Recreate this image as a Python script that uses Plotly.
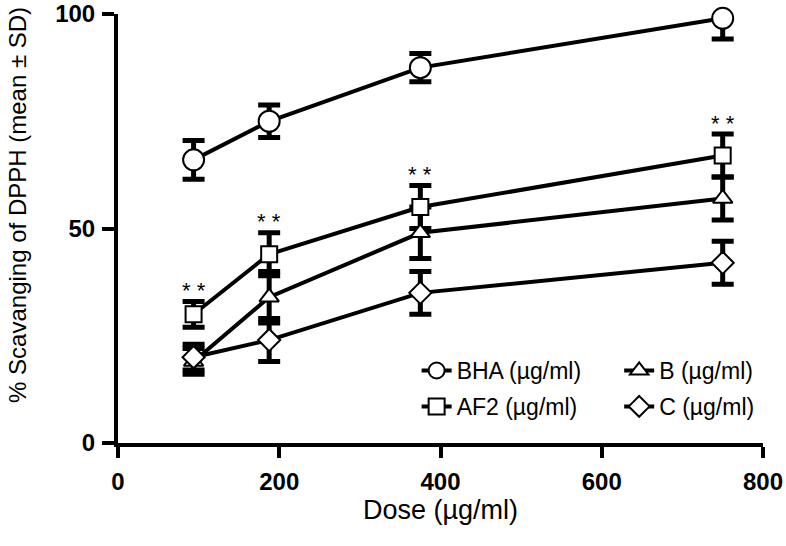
import plotly.graph_objects as go

dose = [93.75, 187.5, 375, 750]
bha = [66, 75, 87.5, 99]
bha_sd = [4.5, 3.8, 3.3, 4.8]
af2 = [30, 44, 55, 67]
af2_sd = [3, 5, 5, 5]
b_vals = [19, 34, 49, 57]
b_sd = [3, 6, 6, 5]
c_vals = [20, 24, 35, 42]
c_sd = [3, 5, 5, 5]

series = [
    ("BHA (µg/ml)", bha, bha_sd, "circle", 21, "legend"),
    ("AF2 (µg/ml)", af2, af2_sd, "square", 16, "legend"),
    ("B (µg/ml)", b_vals, b_sd, "triangle-up", 17, "legend2"),
    ("C (µg/ml)", c_vals, c_sd, "diamond", 17, "legend2"),
]

fig = go.Figure()
FONT = "Liberation Sans, Arial, sans-serif"

# error bars (clipped to plot area)
for name, vals, sd, sym, size, lg in series:
    fig.add_trace(go.Scatter(
        x=dose, y=vals, mode="markers", showlegend=False, hoverinfo="skip",
        marker=dict(size=1, color="rgba(0,0,0,0)"),
        error_y=dict(type="data", array=sd, visible=True, color="black",
                     thickness=5, width=11),
        cliponaxis=True,
    ))

# lines + markers
for name, vals, sd, sym, size, lg in series:
    fig.add_trace(go.Scatter(
        x=dose, y=vals, mode="lines+markers", name=name, legend=lg,
        legendgroup=name,
        line=dict(color="black", width=4),
        marker=dict(symbol=sym, size=size, color="white",
                    line=dict(color="black", width=2)),
        cliponaxis=False,
    ))

for xv, yv, s in zip(dose, af2, af2_sd):
    fig.add_annotation(x=xv, y=yv + s, text="* *", showarrow=False,
                       yshift=11, font=dict(family=FONT, size=22, color="black"))

fig.add_annotation(text="% Scavanging of DPPH (mean ± SD)", textangle=-90,
                   xref="paper", yref="paper", x=0, y=0.555,
                   xanchor="center", yanchor="middle", xshift=-100,
                   showarrow=False, font=dict(size=24, family=FONT, color="black"))

leg_common = dict(font=dict(size=23, family=FONT), bgcolor="rgba(0,0,0,0)",
                  traceorder="grouped", tracegroupgap=3,
                  xanchor="left", yanchor="top")

fig.update_layout(
    width=786, height=546,
    margin=dict(l=118, r=23, t=14, b=103),
    plot_bgcolor="white", paper_bgcolor="white",
    font=dict(family=FONT, color="black"),
    legend=dict(x=0.463, y=0.219, **leg_common),
    legend2=dict(x=0.777, y=0.219, **leg_common),
    xaxis=dict(range=[0, 800], tickvals=[0, 200, 400, 600, 800],
               automargin=False,
               showgrid=False, zeroline=False, showline=True, linecolor="black",
               linewidth=4, ticks="outside", ticklen=11, tickwidth=4,
               tickcolor="black", ticklabelstandoff=3,
               tickfont=dict(size=24, family=FONT, weight="bold"),
               title=dict(text="Dose (µg/ml)", font=dict(size=27, family=FONT),
                          standoff=7)),
    yaxis=dict(range=[0, 100], tickvals=[0, 50, 100],
               automargin=False,
               showgrid=False, zeroline=False, showline=True, linecolor="black",
               linewidth=4, ticks="outside", ticklen=12, tickwidth=4,
               tickcolor="black", ticklabelstandoff=2,
               tickfont=dict(size=24, family=FONT, weight="bold")),
)

fig.write_html("out.html", config={"displayModeBar": False},
               post_script="document.body.style.margin='0px';")
